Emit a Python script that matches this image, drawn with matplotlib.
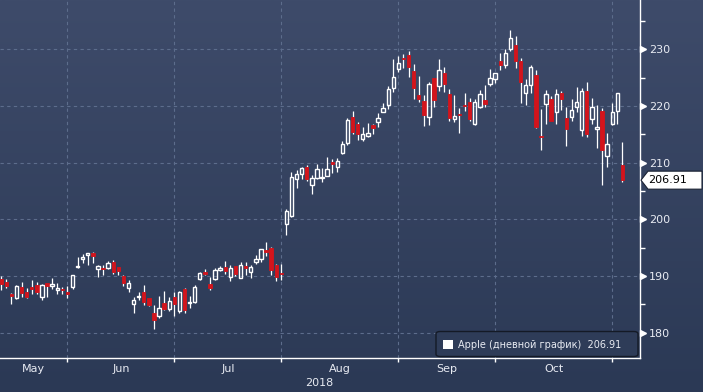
import numpy as np
import matplotlib
matplotlib.use('Agg')
import matplotlib.pyplot as plt
import matplotlib.transforms as mtransforms
from matplotlib.patches import Rectangle, FancyBboxPatch, Polygon
from matplotlib.colors import LinearSegmentedColormap
from matplotlib.ticker import MultipleLocator

# trading days shown on the chart (2018)
dates = (
    ['2018-05-%02d' % d for d in [11, 14, 15, 16, 17, 18, 21, 22, 23, 24, 25, 29, 30, 31]]
    + ['2018-06-%02d' % d for d in [1, 4, 5, 6, 7, 8, 11, 12, 13, 14, 15, 18, 19, 20, 21, 22,
                                    25, 26, 27, 28, 29]]
    + ['2018-07-%02d' % d for d in [2, 3, 5, 6, 9, 10, 11, 12, 13, 16, 17, 18, 19, 20, 23, 24,
                                    25, 26, 27, 30, 31]]
    + ['2018-08-%02d' % d for d in [1, 2, 3, 6, 7, 8, 9, 10, 13, 14, 15, 16, 17, 20, 21, 22,
                                    23, 24, 27, 28, 29, 30, 31]]
    + ['2018-09-%02d' % d for d in [4, 5, 6, 7, 10, 11, 12, 13, 14, 17, 18, 19, 20, 21, 24,
                                    25, 26, 27, 28]]
    + ['2018-10-%02d' % d for d in [1, 2, 3, 4, 5, 8, 9, 10, 11, 12, 15, 16, 17, 18, 19, 22,
                                    23, 24, 25, 26, 29, 30, 31]]
    + ['2018-11-%02d' % d for d in [1, 2]]
)

opens = [189.49, 189.01, 186.78, 186.07, 188.00, 187.19, 188.00, 188.38, 186.35, 188.77,
         188.23, 187.60, 187.72, 187.22,
         187.99, 191.64, 193.07, 193.63, 194.14, 191.17, 191.35, 191.39, 192.42, 191.55,
         190.03, 187.88, 185.14, 186.35, 187.25, 186.12, 183.40, 182.99, 185.23, 184.10,
         186.29,
         183.82, 187.79, 185.26, 185.42, 189.50, 190.71, 188.50, 189.53, 191.08, 191.52,
         189.75, 191.78, 189.69, 191.78, 190.68, 192.45, 193.06, 194.61, 194.99, 191.90,
         190.30,
         199.13, 200.58, 207.03, 208.00, 209.32, 206.05, 207.28, 207.36, 207.70, 210.16,
         209.22, 211.75, 213.44, 218.10, 216.80, 214.10, 214.65, 216.60, 217.15, 219.01,
         220.15, 223.25, 226.51,
         228.41, 228.99, 226.23, 221.85, 220.95, 218.01, 224.94, 223.52, 225.75, 222.15,
         217.79, 218.50, 220.24, 220.78, 216.82, 219.75, 221.00, 223.82, 224.79,
         227.95, 227.25, 230.05, 230.78, 227.96, 222.21, 223.64, 225.46, 214.52, 220.42,
         221.16, 218.93, 222.30, 217.86, 218.06, 219.79, 215.83, 222.60, 217.71, 215.90,
         219.19, 211.15, 216.88,
         219.05, 209.55]

highs = [190.06, 189.53, 187.07, 188.46, 188.91, 187.81, 189.27, 188.88, 188.50, 188.84,
         189.65, 188.75, 188.00, 188.23,
         190.26, 193.42, 193.94, 194.08, 194.20, 192.00, 191.97, 192.61, 192.88, 191.57,
         190.16, 189.22, 186.33, 187.20, 188.35, 186.15, 184.92, 186.53, 187.28, 186.21,
         187.19,
         187.30, 187.95, 186.41, 188.43, 190.68, 191.28, 189.78, 191.41, 191.84, 192.65,
         191.87, 191.80, 192.55, 192.43, 191.96, 193.66, 194.85, 195.96, 195.19, 192.20,
         192.14,
         201.76, 208.38, 208.74, 209.25, 209.50, 207.81, 209.78, 209.10, 210.95, 210.56,
         210.74, 213.81, 217.95, 219.18, 217.19, 216.36, 217.05, 216.90, 218.74, 220.54,
         223.49, 228.26, 228.87,
         229.18, 229.67, 227.35, 225.37, 221.85, 224.30, 225.00, 228.35, 226.84, 222.95,
         221.85, 219.62, 222.28, 221.36, 221.26, 222.82, 223.75, 226.44, 225.84,
         229.42, 230.00, 233.47, 232.35, 228.41, 224.80, 227.27, 226.35, 219.50, 222.88,
         221.83, 222.99, 222.64, 219.74, 221.26, 223.36, 223.25, 224.23, 221.38, 220.19,
         219.69, 215.18, 220.45,
         222.36, 213.65]

lows = [187.45, 187.86, 185.10, 186.00, 186.36, 186.13, 186.91, 186.78, 185.76, 186.21,
        187.65, 186.87, 186.78, 186.14,
        187.75, 191.35, 192.36, 191.92, 192.34, 189.77, 190.21, 191.15, 190.44, 190.22,
        188.26, 187.20, 183.45, 185.73, 184.94, 184.70, 180.73, 182.54, 184.03, 183.80,
        182.91,
        183.42, 183.54, 184.28, 185.20, 189.30, 190.18, 187.61, 189.31, 190.90, 190.42,
        189.20, 189.93, 189.69, 190.17, 189.56, 192.05, 192.43, 193.61, 190.10, 189.07,
        189.34,
        197.31, 200.35, 205.48, 207.07, 206.76, 204.52, 207.20, 206.67, 207.70, 208.26,
        208.33, 211.47, 213.16, 215.11, 214.03, 213.84, 214.60, 215.11, 216.33, 218.92,
        219.41, 222.40, 226.00,
        226.63, 225.10, 221.30, 220.71, 216.47, 216.56, 219.84, 222.57, 222.52, 217.27,
        217.12, 215.30, 219.15, 217.29, 216.63, 219.70, 219.76, 223.54, 224.02,
        226.35, 226.63, 229.78, 226.73, 220.58, 220.20, 222.25, 216.05, 212.32, 216.84,
        217.27, 216.76, 219.34, 213.00, 217.43, 218.94, 214.70, 214.54, 216.75, 212.67,
        206.09, 209.27, 216.62,
        216.81, 206.50]

closes = [188.59, 188.15, 186.44, 188.18, 186.99, 186.31, 187.63, 187.16, 188.36, 188.15,
          188.58, 187.90, 187.50, 186.87,
          190.24, 191.83, 193.31, 193.98, 193.46, 191.70, 191.23, 192.28, 190.70, 190.80,
          188.84, 188.74, 185.69, 186.50, 185.46, 184.92, 182.17, 184.43, 184.16, 185.50,
          185.11,
          187.18, 183.92, 185.40, 187.97, 190.58, 190.35, 187.88, 191.03, 191.33, 190.91,
          191.45, 190.40, 191.88, 191.44, 191.61, 193.00, 194.82, 194.21, 190.98, 189.91,
          190.29,
          201.50, 207.39, 207.99, 209.07, 207.11, 207.25, 208.88, 207.53, 208.87, 209.75,
          210.24, 213.32, 217.58, 215.46, 215.04, 215.05, 215.19, 216.16, 217.94, 219.70,
          222.98, 225.03, 227.63,
          228.36, 226.87, 223.10, 221.30, 218.33, 223.85, 221.07, 226.41, 223.84, 217.88,
          218.24, 218.37, 220.03, 217.66, 220.79, 222.19, 220.42, 224.95, 225.74,
          227.26, 229.28, 232.07, 227.99, 224.29, 223.77, 226.87, 216.36, 214.45, 222.11,
          217.36, 222.15, 221.19, 216.02, 219.31, 220.65, 222.73, 215.09, 219.80, 216.30,
          212.24, 213.30, 218.86,
          222.22, 206.91]

month_names = {'05': 'May', '06': 'Jun', '07': 'Jul', '08': 'Aug', '09': 'Sep', '10': 'Oct'}
y_ticks = [180, 190, 200, 210, 220, 230]
year_label = '2018'
last_price = 206.91
legend_label = 'Apple (дневной график)  206.91'

W, H = 703, 392
bg_top = '#3e4b6a'
bg_bottom = '#2b3955'
grid_col = '#5d6d8c'
red = '#d3141c'
txt_col = '#e8ebf2'


def fx(px):
    return px / W


def fy(py):
    return 1 - py / H


fig = plt.figure(figsize=(W / 100, H / 100), dpi=100)

# background gradient over the whole picture
bg = fig.add_axes([0, 0, 1, 1])
cmap = LinearSegmentedColormap.from_list('bg', [bg_top, bg_bottom])
bg.imshow(np.linspace(0, 1, 256).reshape(-1, 1), cmap=cmap, aspect='auto',
          extent=[0, 1, 0, 1], origin='upper')
bg.set_axis_off()

ax_right, ax_bottom = 639.5, 358
ax = fig.add_axes([0, fy(ax_bottom), fx(ax_right), ax_bottom / H])
ax.patch.set_alpha(0)

xmin, xmax = -0.24, 125.35
ax.set_xlim(xmin, xmax)
ax.set_ylim(175.53, 238.70)

w = 0.66
for i, (o, h, l, c) in enumerate(zip(opens, highs, lows, closes)):
    top, bot = max(o, c), min(o, c)
    ax.vlines(i, top, h, color='white', lw=0.9, zorder=3)
    ax.vlines(i, l, bot, color='white', lw=0.9, zorder=3)
    hgt = max(top - bot, 0.18)
    if c >= o:
        ax.add_patch(Rectangle((i - w / 2, bot), w, hgt, facecolor='none',
                               edgecolor='white', lw=1.0, zorder=4))
    else:
        ax.add_patch(Rectangle((i - w / 2, bot), w, hgt, facecolor=red,
                               edgecolor=red, lw=0.6, zorder=4))

# month boundaries = last trading day of each month
month_ends = [i for i in range(len(dates) - 1)
              if dates[i][5:7] != dates[i + 1][5:7]]

ax.set_xticks(month_ends)
ax.set_xticklabels([])
ax.tick_params(axis='x', direction='out', length=3, width=1, color='white')
ax.set_yticks(y_ticks)
ax.yaxis.set_minor_locator(MultipleLocator(5))
ax.yaxis.tick_right()
ax.tick_params(axis='y', which='major', length=0, pad=7, labelsize=8, labelcolor=txt_col)
ax.tick_params(axis='y', which='minor', direction='out', length=3.5, width=1, color='white')
ax.grid(True, color=grid_col, ls=(0, (3, 3)), lw=0.8)
ax.set_axisbelow(True)

for s in ['left', 'top']:
    ax.spines[s].set_visible(False)
for s in ['right', 'bottom']:
    ax.spines[s].set_color('white')
    ax.spines[s].set_linewidth(1)

# triangle markers on major y ticks
tri_tr = mtransforms.offset_copy(ax.get_yaxis_transform(), fig=fig, x=3.5, y=0, units='dots')
ax.plot([1] * len(y_ticks), y_ticks, ls='none', marker='>', ms=5, color='white',
        transform=tri_tr, clip_on=False, zorder=5)

# month labels
lab_tr = mtransforms.blended_transform_factory(ax.transData, fig.transFigure)
starts = [xmin] + month_ends[:-1]
for s, e in zip(starts, month_ends):
    name = month_names[dates[e][5:7]]
    ax.text((s + e) / 2, fy(369), name, transform=lab_tr, ha='center', va='center',
            fontsize=8, color=txt_col)
fig.text(fx(319), fy(383), year_label, ha='center', va='center', fontsize=8, color=txt_col)

# legend box
fig.patches.append(FancyBboxPatch((fx(436), fy(356.5)), fx(638) - fx(436), fy(331.5) - fy(356.5),
                                  boxstyle='round,pad=0,rounding_size=0.006',
                                  transform=fig.transFigure, facecolor='#2e3c58',
                                  edgecolor='#141a26', lw=1, zorder=6))
fig.patches.append(Rectangle((fx(443), fy(348.5)), fx(452.5) - fx(443), fy(339.5) - fy(348.5),
                             transform=fig.transFigure, facecolor='white', edgecolor='none',
                             zorder=7))
fig.text(fx(458), fy(344.5), legend_label, ha='left', va='center', fontsize=7,
         color=txt_col, zorder=8)

# last price tag
y_last = ax.transData.transform((0, last_price))[1]
py = H - y_last
tag = Polygon([(fx(641), fy(py)), (fx(648), fy(py - 9)), (fx(702), fy(py - 9)),
               (fx(702), fy(py + 9)), (fx(648), fy(py + 9))], closed=True,
              transform=fig.transFigure, facecolor='white', edgecolor='#1a2233', lw=0.8,
              zorder=6)
fig.patches.append(tag)
fig.text(fx(648.5), fy(py), '%.2f' % last_price, ha='left', va='center', fontsize=8,
         color='black', zorder=8)

fig.savefig('out.png', dpi=100)
plt.close()
